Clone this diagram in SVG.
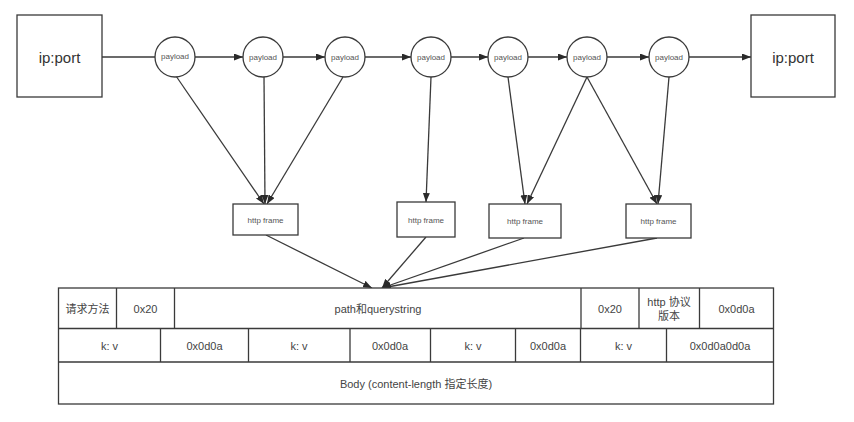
<svg xmlns="http://www.w3.org/2000/svg" width="854" height="422" viewBox="0 0 854 422">
<style>
  .box{fill:#fff;stroke:#3a3a3a;stroke-width:1.3}
  .ln{fill:none;stroke:#3a3a3a;stroke-width:1.3}
  .ar{fill:none;stroke:#3a3a3a;stroke-width:1.3;marker-end:url(#ah)}
  text{font-family:"Liberation Sans","Noto Sans CJK SC",sans-serif;fill:#444;text-anchor:middle;dominant-baseline:central}
  .big{font-size:15px;fill:#333}
  .sm{font-size:8px;fill:#555}
  .tb{font-size:11px}
</style>
<defs>
  <marker id="ah" markerUnits="userSpaceOnUse" markerWidth="9" markerHeight="7" refX="9" refY="3.5" orient="auto">
    <path d="M0,0 L9,3.5 L0,7 z" fill="#2a2a2a"/>
  </marker>
</defs>
<rect width="854" height="422" fill="#fff"/>
<g id="connectors">
  <line class="ln" x1="102" y1="57" x2="155" y2="57"/>
  <line class="ar" x1="195" y1="57" x2="243" y2="57"/>
  <line class="ar" x1="283" y1="57" x2="325" y2="57"/>
  <line class="ar" x1="365" y1="57" x2="411" y2="57"/>
  <line class="ar" x1="451" y1="57" x2="488" y2="57"/>
  <line class="ar" x1="528" y1="57" x2="567" y2="57"/>
  <line class="ar" x1="607" y1="57" x2="649" y2="57"/>
  <line class="ar" x1="689" y1="57" x2="751" y2="57"/>
  <line class="ar" x1="176" y1="76" x2="264" y2="204"/>
  <line class="ar" x1="264" y1="77" x2="265" y2="204"/>
  <line class="ar" x1="343" y1="77" x2="267" y2="204"/>
  <line class="ar" x1="431" y1="77" x2="426" y2="202"/>
  <line class="ar" x1="508" y1="77" x2="525" y2="204"/>
  <line class="ar" x1="587" y1="77" x2="527" y2="204"/>
  <line class="ar" x1="587" y1="77" x2="657" y2="204"/>
  <line class="ar" x1="669" y1="77" x2="658" y2="204"/>
  <line class="ar" x1="266" y1="235" x2="372" y2="288"/>
  <line class="ar" x1="426" y1="237" x2="382" y2="288"/>
  <line class="ar" x1="524" y1="238" x2="382" y2="288"/>
  <line class="ar" x1="657" y1="238" x2="382" y2="288"/>
</g>
<g id="src">
  <rect class="box" x="17" y="15" width="85" height="82"/>
  <text class="big" x="59.5" y="57">ip:port</text>
</g>
<g id="dst">
  <rect class="box" x="751" y="15" width="84" height="82"/>
  <text class="big" x="793" y="57">ip:port</text>
</g>
<g id="p1"><circle class="box" cx="175" cy="57" r="20"/><text class="sm" x="175" y="56">payload</text></g>
<g id="p2"><circle class="box" cx="263" cy="57" r="20"/><text class="sm" x="263" y="57">payload</text></g>
<g id="p3"><circle class="box" cx="345" cy="57" r="20"/><text class="sm" x="345" y="57">payload</text></g>
<g id="p4"><circle class="box" cx="431" cy="57" r="20"/><text class="sm" x="431" y="57">payload</text></g>
<g id="p5"><circle class="box" cx="508" cy="57" r="20"/><text class="sm" x="508" y="57">payload</text></g>
<g id="p6"><circle class="box" cx="587" cy="57" r="20"/><text class="sm" x="587" y="57">payload</text></g>
<g id="p7"><circle class="box" cx="669" cy="57" r="20"/><text class="sm" x="669" y="57">payload</text></g>
<g id="f1"><rect class="box" x="233" y="204" width="65" height="31"/><text class="sm" x="265.5" y="220">http frame</text></g>
<g id="f2"><rect class="box" x="397" y="202" width="58" height="35"/><text class="sm" x="426" y="220">http frame</text></g>
<g id="f3"><rect class="box" x="489" y="204" width="72" height="34"/><text class="sm" x="525" y="221.5">http frame</text></g>
<g id="f4"><rect class="box" x="626" y="204" width="65" height="34"/><text class="sm" x="658.5" y="221.5">http frame</text></g>
<g id="table">
  <rect class="box" x="58.5" y="288" width="715" height="116"/>
  <line class="ln" x1="58.5" y1="328.5" x2="773.5" y2="328.5"/>
  <line class="ln" x1="58.5" y1="362" x2="773.5" y2="362"/>
  <line class="ln" x1="116.5" y1="288" x2="116.5" y2="328.5"/>
  <line class="ln" x1="174.5" y1="288" x2="174.5" y2="328.5"/>
  <line class="ln" x1="581" y1="288" x2="581" y2="328.5"/>
  <line class="ln" x1="639" y1="288" x2="639" y2="328.5"/>
  <line class="ln" x1="699.5" y1="288" x2="699.5" y2="328.5"/>
  <line class="ln" x1="160.5" y1="328.5" x2="160.5" y2="362"/>
  <line class="ln" x1="248.5" y1="328.5" x2="248.5" y2="362"/>
  <line class="ln" x1="350" y1="328.5" x2="350" y2="362"/>
  <line class="ln" x1="430.5" y1="328.5" x2="430.5" y2="362"/>
  <line class="ln" x1="515.5" y1="328.5" x2="515.5" y2="362"/>
  <line class="ln" x1="580.5" y1="328.5" x2="580.5" y2="362"/>
  <line class="ln" x1="666.5" y1="328.5" x2="666.5" y2="362"/>
  <text class="tb" x="87.5" y="308.5">请求方法</text>
  <text class="tb" x="145.5" y="308.5">0x20</text>
  <text class="tb" x="378" y="308.5">path和querystring</text>
  <text class="tb" x="610" y="308.5">0x20</text>
  <text class="tb" x="669" y="302">http 协议</text>
  <text class="tb" x="669" y="315.5">版本</text>
  <text class="tb" x="736.5" y="308.5">0x0d0a</text>
  <text class="tb" x="109.5" y="345.5">k: v</text>
  <text class="tb" x="204.5" y="345.5">0x0d0a</text>
  <text class="tb" x="299" y="345.5">k: v</text>
  <text class="tb" x="390" y="345.5">0x0d0a</text>
  <text class="tb" x="473" y="345.5">k: v</text>
  <text class="tb" x="548" y="345.5">0x0d0a</text>
  <text class="tb" x="623.5" y="345.5">k: v</text>
  <text class="tb" x="720" y="345.5">0x0d0a0d0a</text>
  <text class="tb" x="416" y="384">Body (content-length 指定长度)</text>
</g>
</svg>
